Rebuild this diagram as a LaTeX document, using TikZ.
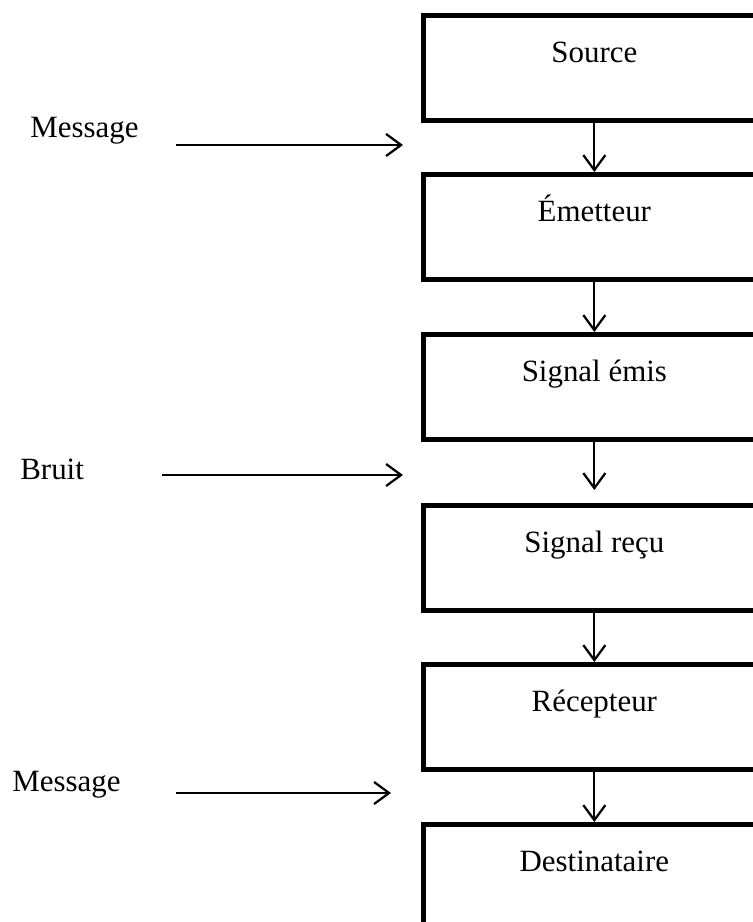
\documentclass[tikz,border=0pt]{standalone}
\usepackage{fontspec}
\setmainfont{Liberation Serif}
\usetikzlibrary{arrows.meta}
\tikzset{
  stage/.style={draw, line width=0.095cm, rectangle, anchor=north west, inner sep=0pt,
    minimum width=6.84cm, text height=0.94cm, text depth=1.16cm},
  flow/.style={line width=0.045cm, -{Straight Barb[length=0.3cm,width=0.44cm]}},
  sidelabel/.style={anchor=base west, inner sep=0pt}
}
\newcommand{\drawflow}{\draw[flow]}

\begin{document}
\begin{tikzpicture}[x=0.02cm, y=-0.02cm, font=\fontsize{17.6}{21}\selectfont]
\useasboundingbox (0,0) rectangle (753,922);
% boxes
\node[stage] (source) at (421,13) {Source};
\node[stage] (emetteur) at (421,172) {Émetteur};
\node[stage] (emis) at (421,332) {Signal émis};
\node[stage] (recu) at (421,503) {Signal reçu};
\node[stage] (recepteur) at (421,662) {Récepteur};
\node[stage] (destinataire) at (421,822) {Destinataire};
\drawflow (source) -- (emetteur);
\drawflow (emetteur) -- (emis);
\drawflow (emis.south) -- ([yshift=0.26cm]recu.north);
\drawflow (recu) -- (recepteur);
\drawflow (recepteur) -- (destinataire);
% side inputs
\node[sidelabel] (msgin) at (30,138) {Message};
\node[sidelabel] (bruit) at (20,479) {Bruit};
\node[sidelabel] (msgout) at (12,791) {Message};
\coordinate (msgin-a) at (176,145); \coordinate (msgin-b) at (403,145);
\coordinate (bruit-a) at (162,475); \coordinate (bruit-b) at (403,475);
\coordinate (msgout-a) at (176,793); \coordinate (msgout-b) at (391,793);
\drawflow (msgin-a) -- (msgin-b);
\drawflow (bruit-a) -- (bruit-b);
\drawflow (msgout-a) -- (msgout-b);
\end{tikzpicture}
\end{document}
